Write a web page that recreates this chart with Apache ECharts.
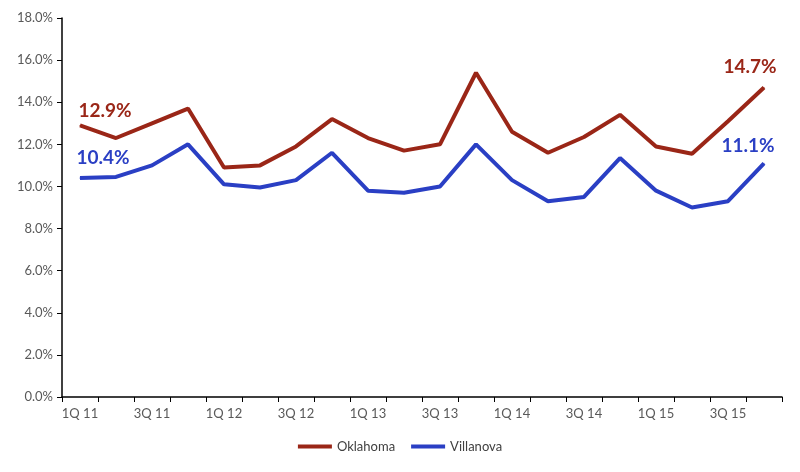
<!DOCTYPE html>
<html>
<head>
<meta charset="utf-8">
<script src="https://cdn.jsdelivr.net/npm/echarts@6/dist/echarts.min.js"></script>
<style>html,body{margin:0;padding:0;background:#fff}#c{width:800px;height:472px}</style>
</head>
<body>
<div id="c"></div>
<script>
const categories = ['1Q 11','2Q 11','3Q 11','4Q 11','1Q 12','2Q 12','3Q 12','4Q 12','1Q 13','2Q 13','3Q 13','4Q 13','1Q 14','2Q 14','3Q 14','4Q 14','1Q 15','2Q 15','3Q 15','4Q 15'];
const oklahoma = [12.9,12.3,13.0,13.7,10.9,11.0,11.9,13.2,12.3,11.7,12.0,15.4,12.6,11.6,12.35,13.4,11.9,11.55,13.1,14.7];
const villanova = [10.4,10.45,11.0,12.0,10.1,9.95,10.3,11.6,9.8,9.7,10.0,12.0,10.3,9.3,9.5,11.35,9.8,9.0,9.3,11.1];
const yTicks = {min:0, max:18, interval:2};

const RED = '#9a2617', BLUE = '#2a3fc4';
function withLabels(arr, color, firstOff, lastOff){
  return arr.map((v,i)=>{
    if(i===0 || i===arr.length-1){
      return {value:v, label:{show:true, position:'top', offset: i===0?firstOff:lastOff,
        formatter: p=>p.value.toFixed(1)+'%', color:color, fontSize:19, fontWeight:'bold', fontFamily:'Lato'}};
    }
    return v;
  });
}
const chart = echarts.init(document.getElementById('c'));
chart.setOption({
  animation:false,
  grid:{left:62,right:18,top:18,bottom:75},
  legend:{bottom:14,left:'center',icon:'rect',itemWidth:34,itemHeight:4,itemGap:16,
    textStyle:{color:'#404040',fontSize:13,fontFamily:'Lato'},
    data:['Oklahoma','Villanova']},
  xAxis:{type:'category',data:categories,boundaryGap:true,
    axisLine:{lineStyle:{color:'#000',width:1.5}},
    axisTick:{show:true,interval:0,length:5,lineStyle:{color:'#000'}},
    axisLabel:{interval:1,color:'#595959',fontSize:13,fontFamily:'Lato',margin:10}},
  yAxis:{type:'value',min:yTicks.min,max:yTicks.max,interval:yTicks.interval,
    splitLine:{show:false},
    axisLine:{show:true,lineStyle:{color:'#000',width:1.5}},
    axisTick:{show:true,length:5,lineStyle:{color:'#000'}},
    axisLabel:{color:'#595959',fontSize:13,fontFamily:'Lato',margin:9,formatter:v=>v.toFixed(1)+'%'}},
  series:[
    {name:'Oklahoma',type:'line',data:withLabels(oklahoma,RED,[25,0],[-14,-6]),
     color:RED,lineStyle:{width:4,color:RED},symbol:'circle',symbolSize:1,showSymbol:true,itemStyle:{color:RED}},
    {name:'Villanova',type:'line',data:withLabels(villanova,BLUE,[23,-5],[-16,-2]),
     color:BLUE,lineStyle:{width:4,color:BLUE},symbol:'circle',symbolSize:1,showSymbol:true,itemStyle:{color:BLUE}}
  ]
});
</script>
</body>
</html>
